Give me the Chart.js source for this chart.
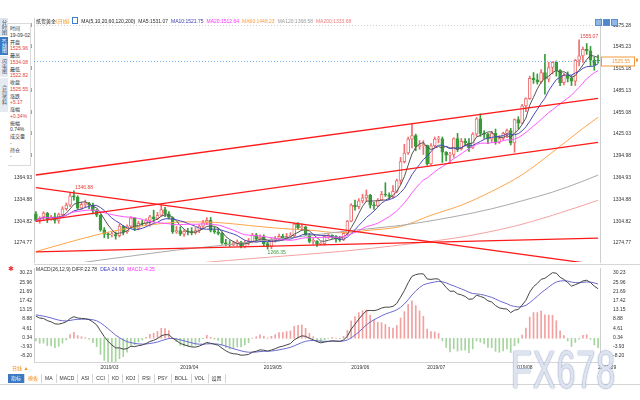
<!DOCTYPE html>
<html>
<head>
<meta charset="utf-8">
<script src="https://cdn.jsdelivr.net/npm/chart.js@4.4.1/dist/chart.umd.min.js"></script>
<style>
  body { margin: 0; width: 640px; height: 400px; position: relative; overflow: hidden; background: #fff;
         font-family: "Liberation Sans", "Noto Sans CJK SC", sans-serif; }
  canvas { position: absolute; left: 0; }
  #main { top: 0; }
  #macd { top: 263px; }
  .t { position: absolute; font-size: 5px; line-height: 6px; white-space: nowrap; color: #333; }
  #header { position: absolute; left: 36px; top: 18px; display: flex; gap: 3px; font-size: 5px; line-height: 6px; white-space: nowrap; }
  #macdTitle { position: absolute; left: 36px; top: 266px; display: flex; gap: 3px; font-size: 5px; line-height: 6px; white-space: nowrap; }
  #info { position: absolute; left: 8px; top: 23px; width: 22px; height: 141px; background: #fff; border: 1px solid #dadada; border-left: none; }
  .tab { position: absolute; left: 0; width: 8px; font-size: 5px; writing-mode: vertical-rl; text-align: center; line-height: 8px; }
  #btns { position: absolute; left: 595px; top: 19px; display: flex; gap: 1px; }
  #btns div { width: 5px; height: 5px; background: #8fb8e6; border: 1px solid #5b8fd0; }
  #bottomTabs { position: absolute; left: 8px; top: 374px; height: 9px; display: flex; font-size: 5px; line-height: 9px; }
  #bottomTabs div { padding: 0 3px; border-right: 1px solid #d4d4d4; color: #333; }
  #mark { position: absolute; left: 511px; top: 338px; font-size: 34px; font-family: "Liberation Sans", sans-serif;
          color: rgba(236, 240, 247, 0.85); text-shadow: 0 0 1px #8a9ec2, 0 0 1px #8a9ec2; transform: scaleY(1.6); transform-origin: top left; letter-spacing: 1px; }
</style>
</head>
<body>
<canvas id="main" width="640" height="267"></canvas>
<canvas id="macd" width="640" height="110"></canvas>

<div id="header">
  <span style="color:#222">纸货黄金<span style="color:#f39a2b">(日线)</span></span>
  <span style="display:inline-block;width:4px;height:5px;border:1px solid #3f7fd0;margin-top:-1px"></span>
  <span style="color:#222">MA(5,10,20,60,120,200)</span>
  <span style="color:#333">MA5:1531.07</span>
  <span style="color:#3b3bb0">MA10:1521.75</span>
  <span style="color:#ff30ff">MA20:1512.64</span>
  <span style="color:#ff9a3c">MA60:1448.23</span>
  <span style="color:#999">MA120:1368.58</span>
  <span style="color:#f07878">MA200:1333.68</span>
</div>
<div id="btns"><div></div><div style="background:#4f86cc"></div><div></div></div>

<div class="tab" style="top:18px;height:18px;background:#dde5ee;color:#456">分时图</div>
<div class="tab" style="top:37px;height:18px;background:#3a78c3;color:#fff">K线图</div>
<div class="tab" style="top:56px;height:21px;background:#e6ebf1;color:#456">闪电图</div>
<div class="tab" style="top:78px;height:34px;background:#e6ebf1;color:#456">合约资料</div>
<div id="info"></div>

<div id="macdTitle">
  <span style="color:#333">MACD(26,12,9) DIFF:22.78</span>
  <span style="color:#4444c0">DEA:24.90</span>
  <span style="color:#ff30ff">MACD:-4.25</span>
</div>
<div class="t" style="left:8px;top:265px;color:#e53030;font-size:7px;line-height:8px">✱</div>

<div class="t" style="left:12px;top:365px;color:#f08c1e">日线 ▲</div>
<div id="bottomTabs">
  <div style="background:#3a78c3;color:#fff">指标</div>
  <div style="color:#f08c1e">模板</div>
  <div>MA</div><div>MACD</div><div>ASI</div><div>CCI</div><div>KD</div><div>KDJ</div>
  <div>RSI</div><div>PSY</div><div>BOLL</div><div>VOL</div><div>设置</div>
</div>
<div style="position:absolute;left:0;top:384px;width:640px;height:1px;background:#d4d4d4"></div>
<div id="mark">FX678</div>

<script>
// daily candles: date, open, high, low, close
const candles = [
  ['2019/02/06', 1315, 1318, 1305, 1306],
  ['2019/02/07', 1306, 1311, 1302, 1309],
  ['2019/02/08', 1309, 1318, 1306, 1316],
  ['2019/02/11', 1316, 1317, 1303, 1307],
  ['2019/02/12', 1307, 1313, 1306, 1311],
  ['2019/02/13', 1311, 1316, 1302, 1306],
  ['2019/02/14', 1306, 1316, 1302, 1314],
  ['2019/02/15', 1314, 1325, 1311, 1322],
  ['2019/02/18', 1322, 1330, 1320, 1327],
  ['2019/02/19', 1327, 1344, 1325, 1340],
  ['2019/02/20', 1340, 1346.88, 1334, 1338],
  ['2019/02/21', 1338, 1340, 1321, 1323],
  ['2019/02/22', 1323, 1331, 1321, 1328],
  ['2019/02/25', 1328, 1334, 1324, 1329],
  ['2019/02/26', 1329, 1331, 1322, 1327],
  ['2019/02/27', 1327, 1330, 1315, 1319],
  ['2019/02/28', 1319, 1321, 1311, 1313],
  ['2019/03/01', 1313, 1314, 1291, 1293],
  ['2019/03/04', 1293, 1296, 1282, 1287],
  ['2019/03/05', 1287, 1289, 1281, 1286],
  ['2019/03/06', 1286, 1290, 1283, 1286.5],
  ['2019/03/07', 1286.5, 1290, 1280, 1285],
  ['2019/03/08', 1285, 1301, 1283, 1298],
  ['2019/03/11', 1298, 1299, 1286, 1290],
  ['2019/03/12', 1290, 1300, 1288, 1298],
  ['2019/03/13', 1298, 1311, 1296, 1309],
  ['2019/03/14', 1309, 1310, 1292, 1295],
  ['2019/03/15', 1295, 1305, 1293, 1302],
  ['2019/03/18', 1302, 1306, 1299, 1301],
  ['2019/03/19', 1301, 1308, 1299, 1306],
  ['2019/03/20', 1306, 1313, 1298, 1311],
  ['2019/03/21', 1311, 1320, 1304, 1308],
  ['2019/03/22', 1308, 1317, 1307, 1313],
  ['2019/03/25', 1313, 1327, 1312, 1321],
  ['2019/03/26', 1321, 1324, 1311, 1315],
  ['2019/03/27', 1315, 1318, 1308, 1310],
  ['2019/03/28', 1310, 1311, 1288, 1290],
  ['2019/03/29', 1290, 1298, 1288, 1292],
  ['2019/04/01', 1292, 1297, 1285, 1287],
  ['2019/04/02', 1287, 1293, 1284, 1291],
  ['2019/04/03', 1291, 1295, 1286, 1290],
  ['2019/04/04', 1290, 1296, 1286, 1289],
  ['2019/04/05', 1289, 1296, 1287, 1292],
  ['2019/04/08', 1292, 1300, 1289, 1298],
  ['2019/04/09', 1298, 1306, 1295, 1303],
  ['2019/04/10', 1303, 1310, 1300, 1306],
  ['2019/04/11', 1306, 1310, 1290, 1292],
  ['2019/04/12', 1292, 1297, 1288, 1290],
  ['2019/04/15', 1290, 1295, 1286, 1288],
  ['2019/04/16', 1288, 1290, 1273, 1275],
  ['2019/04/17', 1275, 1280, 1271, 1273],
  ['2019/04/18', 1273, 1278, 1270, 1272],
  ['2019/04/19', 1272, 1277, 1271, 1275],
  ['2019/04/22', 1275, 1279, 1271, 1276],
  ['2019/04/23', 1276, 1277, 1268, 1270],
  ['2019/04/24', 1270, 1278, 1268, 1275],
  ['2019/04/25', 1275, 1281, 1272, 1277],
  ['2019/04/26', 1277, 1288, 1275, 1286],
  ['2019/04/29', 1286, 1288, 1278, 1280],
  ['2019/04/30', 1280, 1286, 1278, 1283],
  ['2019/05/01', 1283, 1286, 1271, 1274],
  ['2019/05/02', 1274, 1276, 1266.35, 1270],
  ['2019/05/03', 1270, 1282, 1267, 1279],
  ['2019/05/06', 1279, 1284, 1276, 1281],
  ['2019/05/07', 1281, 1287, 1279, 1284],
  ['2019/05/08', 1284, 1287, 1278, 1281],
  ['2019/05/09', 1281, 1288, 1280, 1284],
  ['2019/05/10', 1284, 1289, 1282, 1285],
  ['2019/05/13', 1285, 1302, 1283, 1301],
  ['2019/05/14', 1301, 1303, 1294, 1296],
  ['2019/05/15', 1296, 1301, 1292, 1297],
  ['2019/05/16', 1297, 1298, 1285, 1286],
  ['2019/05/17', 1286, 1288, 1275, 1277],
  ['2019/05/20', 1277, 1281, 1273, 1277.5],
  ['2019/05/21', 1277.5, 1278, 1270, 1273],
  ['2019/05/22', 1273, 1276, 1272, 1274],
  ['2019/05/23', 1274, 1286, 1272, 1284],
  ['2019/05/24', 1284, 1287, 1281, 1284.5],
  ['2019/05/27', 1284.5, 1286, 1281, 1284],
  ['2019/05/28', 1284, 1285, 1276, 1280],
  ['2019/05/29', 1280, 1284, 1277, 1279],
  ['2019/05/30', 1279, 1290, 1278, 1288],
  ['2019/05/31', 1288, 1306, 1286, 1305],
  ['2019/06/03', 1305, 1329, 1304, 1327],
  ['2019/06/04', 1327, 1334, 1320, 1325],
  ['2019/06/05', 1325, 1336, 1322, 1333],
  ['2019/06/06', 1333, 1342, 1330, 1337],
  ['2019/06/07', 1337, 1348, 1332, 1341],
  ['2019/06/10', 1341, 1342, 1323, 1327],
  ['2019/06/11', 1327, 1331, 1321, 1326],
  ['2019/06/12', 1326, 1336, 1325, 1334],
  ['2019/06/13', 1334, 1346, 1333, 1342],
  ['2019/06/14', 1342, 1358, 1339, 1341],
  ['2019/06/17', 1341, 1344, 1335, 1339],
  ['2019/06/18', 1339, 1354, 1337, 1346],
  ['2019/06/19', 1346, 1363, 1344, 1361],
  ['2019/06/20', 1361, 1393, 1356, 1387],
  ['2019/06/21', 1387, 1411, 1385, 1399],
  ['2019/06/24', 1399, 1421, 1397, 1418],
  ['2019/06/25', 1418, 1439, 1406, 1423],
  ['2019/06/26', 1423, 1425, 1402, 1408],
  ['2019/06/27', 1408, 1416, 1404, 1409],
  ['2019/06/28', 1409, 1416, 1397, 1409.5],
  ['2019/07/01', 1409.5, 1410, 1382, 1384],
  ['2019/07/02', 1384, 1412, 1382, 1409],
  ['2019/07/03', 1409, 1421, 1407, 1418],
  ['2019/07/04', 1418, 1422, 1413, 1418.5],
  ['2019/07/05', 1418.5, 1421, 1386, 1400],
  ['2019/07/08', 1400, 1401, 1388, 1396],
  ['2019/07/09', 1396, 1400, 1385, 1397],
  ['2019/07/10', 1397, 1420, 1393, 1419],
  ['2019/07/11', 1419, 1426, 1401, 1405],
  ['2019/07/12', 1405, 1419, 1403, 1415],
  ['2019/07/15', 1415, 1419, 1409, 1413],
  ['2019/07/16', 1413, 1419, 1401, 1406],
  ['2019/07/17', 1406, 1427, 1405, 1425],
  ['2019/07/18', 1425, 1448, 1422, 1446],
  ['2019/07/19', 1446, 1453, 1422, 1426],
  ['2019/07/22', 1426, 1430, 1419, 1425],
  ['2019/07/23', 1425, 1426, 1412, 1418],
  ['2019/07/24', 1418, 1429, 1414, 1426],
  ['2019/07/25', 1426, 1432, 1411, 1414],
  ['2019/07/26', 1414, 1423, 1412, 1419],
  ['2019/07/29', 1419, 1428, 1417, 1426],
  ['2019/07/30', 1426, 1432, 1420, 1430],
  ['2019/07/31', 1430, 1433, 1410, 1413],
  ['2019/08/01', 1413, 1446, 1400, 1445],
  ['2019/08/02', 1445, 1449, 1432, 1440],
  ['2019/08/05', 1440, 1466, 1439, 1464],
  ['2019/08/06', 1464, 1475, 1456, 1474],
  ['2019/08/07', 1474, 1505, 1473, 1502],
  ['2019/08/08', 1502, 1510, 1495, 1500],
  ['2019/08/09', 1500, 1508, 1494, 1497],
  ['2019/08/12', 1497, 1514, 1495, 1510],
  ['2019/08/13', 1510, 1535, 1480, 1501],
  ['2019/08/14', 1501, 1524, 1497, 1517],
  ['2019/08/15', 1517, 1525, 1508, 1524],
  ['2019/08/16', 1524, 1526, 1505, 1513],
  ['2019/08/19', 1513, 1514, 1492, 1496],
  ['2019/08/20', 1496, 1509, 1493, 1506],
  ['2019/08/21', 1506, 1511, 1497, 1502],
  ['2019/08/22', 1502, 1506, 1492, 1498],
  ['2019/08/23', 1498, 1528, 1492, 1527],
  ['2019/08/26', 1527, 1555.07, 1519, 1533],
  ['2019/08/27', 1533, 1545, 1524, 1542],
  ['2019/08/28', 1542, 1550, 1535, 1540],
  ['2019/08/29', 1540, 1546, 1519, 1527],
  ['2019/08/30', 1527, 1531, 1513, 1520.38],
  ['2019/09/02', 1525.96, 1534.08, 1522.82, 1525.55],
];

// long averages (they need history before the window)
const ma60Marks = [
  ['2019/02/06', 1263], ['2019/02/28', 1286], ['2019/03/12', 1295], ['2019/03/22', 1301],
  ['2019/04/03', 1304], ['2019/04/15', 1303], ['2019/04/25', 1299], ['2019/05/07', 1295],
  ['2019/05/17', 1292.5], ['2019/05/29', 1289], ['2019/06/10', 1292.5], ['2019/06/20', 1297.5],
  ['2019/07/02', 1313], ['2019/07/12', 1327], ['2019/07/24', 1346], ['2019/08/05', 1369],
  ['2019/08/15', 1400], ['2019/08/27', 1433], ['2019/09/02', 1448.23],
];
const ma120Marks = [
  ['2019/02/06', 1236], ['2019/02/20', 1246], ['2019/03/12', 1256], ['2019/03/29', 1265],
  ['2019/04/15', 1271], ['2019/05/02', 1279], ['2019/05/17', 1285], ['2019/06/03', 1292],
  ['2019/06/20', 1299], ['2019/07/09', 1310], ['2019/07/24', 1322], ['2019/08/05', 1333],
  ['2019/08/15', 1345], ['2019/08/27', 1360], ['2019/09/02', 1368.58],
];
const ma200Marks = [
  ['2019/02/06', 1228], ['2019/03/07', 1236], ['2019/04/03', 1246], ['2019/05/02', 1255],
  ['2019/05/29', 1263], ['2019/06/20', 1272], ['2019/07/12', 1283], ['2019/08/01', 1298],
  ['2019/08/15', 1313], ['2019/09/02', 1333.68],
];

// hand-drawn trend lines: [start date, value, end date, value]
const upperChannel = ['2019/02/06', 1368.6, '2019/09/02', 1474.4];
const lowerChannel = ['2019/02/06', 1304.7, '2019/09/02', 1413.7];
const fallingLine = ['2019/02/06', 1351.1, '2019/09/02', 1244.7];
const baseLine = ['2019/02/06', 1262.5, '2019/09/02', 1281.5];

const priceTicks = [1274.77, 1304.82, 1334.88, 1364.93, 1394.98, 1425.03, 1455.08, 1485.13, 1515.18, 1545.23, 1575.28];
const macdTicks = [-8.20, -3.93, 0.34, 4.61, 8.88, 13.15, 17.42, 21.69, 25.96, 30.23];
const macdSeed = { ema12: 1311, ema26: 1299.5, dea: 11 };

const markedHighs = ['2019/02/20', '2019/08/26'];
const markedLows = ['2019/05/02'];

const infoRows = [
  ['时间', '#333'], ['19-09-02', '#333'], ['开盘', '#333'], ['1525.96', '#e8403a'],
  ['最高', '#333'], ['1534.08', '#e8403a'], ['最低', '#333'], ['1522.82', '#e8403a'],
  ['收盘', '#333'], ['1525.55', '#e8403a'], ['涨跌', '#333'], ['+5.17', '#e8403a'],
  ['涨幅', '#333'], ['+0.34%', '#e8403a'], ['振幅', '#333'], ['0.74%', '#333'],
  ['成交量', '#333'], ['-', '#333'], ['持仓', '#333'], ['-', '#333'],
];

const UP = '#ee7070', DOWN = '#3a9a3a';
const FONT = { family: 'Liberation Sans', size: 5 };

const info = document.getElementById('info');
infoRows.forEach(([text, color], i) => {
  const d = document.createElement('div');
  d.className = 't';
  d.style.left = '2px';
  d.style.top = (1 + i * 6.75) + 'px';
  d.style.color = color;
  d.textContent = text;
  info.appendChild(d);
});

const labels = candles.map((c) => c[0]);
const closes = candles.map((c) => c[4]);
const isUp = candles.map((c) => c[4] >= c[1]);

// moving averages of the closes, as the chart defines them
function movingAverage(n) {
  return closes.map((_, i) => {
    const win = closes.slice(Math.max(0, i - n + 1), i + 1);
    return win.reduce((a, b) => a + b, 0) / win.length;
  });
}
function sparse(marks) {
  const d = labels.map(() => null);
  marks.forEach(([date, v]) => { d[labels.indexOf(date)] = v; });
  return d;
}
function segment(line) {
  return sparse([[line[0], line[1]], [line[2], line[3]]]);
}

// MACD(26,12,9) from the closes
let e12 = macdSeed.ema12, e26 = macdSeed.ema26, dea = macdSeed.dea;
const diffLine = [], deaLine = [], hist = [];
closes.forEach((c) => {
  e12 = (e12 * 11 + c * 2) / 13;
  e26 = (e26 * 25 + c * 2) / 27;
  const diff = e12 - e26;
  dea = (dea * 8 + diff * 2) / 10;
  diffLine.push(diff);
  deaLine.push(dea);
  hist.push(2 * (diff - dea));
});

function line(data, color, width, order, smooth) {
  return {
    type: 'line', data, borderColor: color, borderWidth: width, pointRadius: 0,
    spanGaps: true, order, cubicInterpolationMode: smooth ? 'monotone' : 'default', tension: 0,
  };
}

// tick marks are invisible; their length pushes the right-hand labels outwards
function valueAxis(position, min, max, ticks, width, gap) {
  return {
    position, min, max,
    afterFit: (s) => { s.width = width; },
    afterBuildTicks: (s) => { s.ticks = ticks.map((v) => ({ value: v })); },
    ticks: { autoSkip: false, font: FONT, color: '#333', padding: 2, callback: (v) => v.toFixed(2) },
    grid: { drawOnChartArea: false, drawTicks: true, tickLength: gap, tickColor: 'transparent' },
    border: { display: true, color: '#cfcfcf' },
  };
}

const mainOverlay = {
  id: 'mainOverlay',
  afterDatasetsDraw(chart) {
    const { ctx, chartArea: a, scales } = chart;
    const x = scales.x, y = scales.y;
    ctx.save();
    ctx.lineWidth = 1;
    // dotted top level
    const ty = Math.round(y.getPixelForValue(priceTicks[priceTicks.length - 1])) + 0.5;
    ctx.strokeStyle = '#d0d0d0';
    ctx.setLineDash([1, 2]);
    ctx.beginPath();
    ctx.moveTo(a.left, ty);
    ctx.lineTo(a.right, ty);
    ctx.stroke();
    // last price guide
    const last = candles[candles.length - 1];
    const ly = Math.round(y.getPixelForValue(last[4])) + 0.5;
    ctx.strokeStyle = '#6fb0f0';
    ctx.beginPath();
    ctx.moveTo(a.left, ly);
    ctx.lineTo(a.right, ly);
    ctx.stroke();
    ctx.setLineDash([]);
    ctx.fillStyle = '#fff';
    ctx.fillRect(a.right + 1, ly - 4.5, 33, 9);
    ctx.strokeStyle = '#f29a3a';
    ctx.strokeRect(a.right + 1.5, ly - 4.5, 33, 9);
    ctx.fillStyle = '#f29a3a';
    ctx.font = '5px "Liberation Sans"';
    ctx.textBaseline = 'middle';
    ctx.textAlign = 'left';
    ctx.fillText(last[4].toFixed(2), a.right + 12, ly);
    ctx.fillRect(a.right + 36, ly - 3, 2, 3);
    // marked extremes
    markedHighs.forEach((d) => {
      const i = labels.indexOf(d);
      ctx.fillStyle = '#e8403a';
      ctx.textBaseline = 'bottom';
      ctx.fillText(candles[i][2].toFixed(2), x.getPixelForValue(i) + 1, y.getPixelForValue(candles[i][2]) - 0.5);
    });
    markedLows.forEach((d) => {
      const i = labels.indexOf(d);
      ctx.fillStyle = '#3a9a3a';
      ctx.textBaseline = 'top';
      ctx.fillText(candles[i][3].toFixed(2), x.getPixelForValue(i), y.getPixelForValue(candles[i][3]) + 1.5);
    });
    // panel separator
    ctx.strokeStyle = '#d6d6d6';
    ctx.beginPath();
    ctx.moveTo(a.left, a.bottom + 2.5);
    ctx.lineTo(640, a.bottom + 2.5);
    ctx.stroke();
    ctx.restore();
  },
};

new Chart(document.getElementById('main'), {
  type: 'bar',
  data: {
    labels,
    datasets: [
      {
        data: candles.map((c) => [c[3], c[2]]),
        backgroundColor: isUp.map((u) => (u ? UP : DOWN)),
        barThickness: 1, grouped: false, order: 10,
      },
      {
        data: candles.map((c) => [c[1], c[4]]),
        backgroundColor: isUp.map((u) => (u ? '#fff' : DOWN)),
        borderColor: isUp.map((u) => (u ? UP : DOWN)),
        borderWidth: 1, borderSkipped: false, minBarLength: 1,
        barThickness: 3, grouped: false, order: 9,
      },
      line(sparse(ma200Marks), '#f3a3a3', 1, 6, true),
      line(sparse(ma120Marks), '#aaaaaa', 1, 6, true),
      line(sparse(ma60Marks), '#ffa54a', 1, 6, true),
      line(movingAverage(20), '#ff55ff', 1, 5),
      line(movingAverage(10), '#4a4ab8', 1, 5),
      line(movingAverage(5), '#555555', 1, 5),
      line(segment(upperChannel), '#ff1a1a', 1.3, 1),
      line(segment(lowerChannel), '#ff1a1a', 1.3, 1),
      line(segment(fallingLine), '#ff1a1a', 1.3, 1),
      line(segment(baseLine), '#ff1a1a', 1.3, 1),
    ],
  },
  options: {
    responsive: false, animation: false, events: [],
    layout: { padding: { top: 18, bottom: 0 } },
    plugins: { legend: { display: false }, tooltip: { enabled: false } },
    scales: {
      x: { display: false, offset: true },
      y: valueAxis('left', 1248.55, 1585.25, priceTicks, 34, 0),
      y2: valueAxis('right', 1248.55, 1585.25, priceTicks, 40, 11),
    },
  },
  plugins: [mainOverlay],
});

new Chart(document.getElementById('macd'), {
  type: 'bar',
  data: {
    labels,
    datasets: [
      line(diffLine, '#444444', 1, 1),
      line(deaLine, '#6a6ad2', 1, 2),
      {
        data: hist,
        backgroundColor: hist.map((v) => (v >= 0 ? '#f2a0a0' : '#a6d49e')),
        barThickness: 1, order: 3,
      },
    ],
  },
  options: {
    responsive: false, animation: false, events: [],
    layout: { padding: { top: 4 } },
    plugins: { legend: { display: false }, tooltip: { enabled: false } },
    scales: {
      x: {
        offset: true,
        afterFit: (s) => { s.height = 11; },
        grid: { display: false, drawTicks: false },
        border: { display: true, color: '#d6d6d6' },
        ticks: {
          autoSkip: false, maxRotation: 0, align: 'start', padding: 3, font: FONT, color: '#333',
          callback: (v, i) => (i > 0 && labels[i].slice(5, 7) !== labels[i - 1].slice(5, 7) ? labels[i].slice(0, 7) : ''),
        },
      },
      y: valueAxis('left', -10.978, 32.545, macdTicks, 34, 0),
      y2: valueAxis('right', -10.978, 32.545, macdTicks, 40, 11),
    },
  },
});
</script>
</body>
</html>
